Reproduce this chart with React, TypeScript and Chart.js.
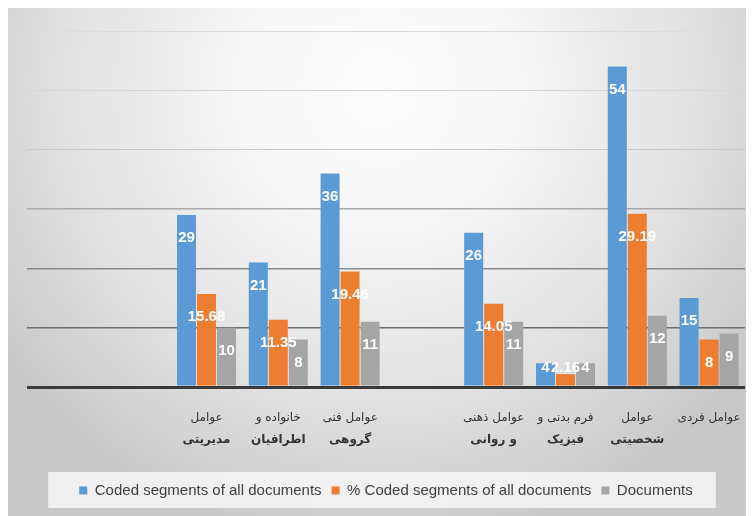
import React, { useEffect, useRef } from "react";
import { Chart, registerables } from "chart.js";
Chart.register(...registerables);

const categories: (string | string[])[] = [
  "",
  "",
  ["عوامل", "مدیریتی"],
  ["خانواده و", "اطرافیان"],
  ["عوامل فنی", "گروهی"],
  "",
  ["عوامل ذهنی", "و روانی"],
  ["فرم بدنی و", "فیزیک"],
  ["عوامل", "شخصیتی"],
  ["عوامل فردی"],
];
const codedSegments = [null, null, 29, 21, 36, null, 26, 4, 54, 15];
const percentCoded = [null, null, 15.68, 11.35, 19.46, null, 14.05, 2.16, 29.19, 8];
const documents = [null, null, 10, 8, 11, null, 11, 4, 12, 9];
const seriesNames = [
  "Coded segments of all documents",
  "% Coded segments of all documents",
  "Documents",
];
const seriesColors = ["#5B9BD5", "#ED7D31", "#A5A5A5"];
const yMin = 0;
const yMax = 60;
const yStep = 10;

const gridColors: Record<number, string> = {
  0: "#3a3a3a",
  10: "#6e6e6e",
  20: "#8a8a8a",
  30: "#a9a9a9",
  40: "#c9c9c9",
  50: "#d6d6d6",
  60: "#dcdcdc",
};

const backgroundPlugin = {
  id: "bgPlugin",
  beforeDraw(chart: any) {
    const { ctx, width, height } = chart;
    ctx.save();
    const cx = width / 2;
    const cy = 80;
    const g = ctx.createRadialGradient(cx, cy, 0, cx, cy, 460);
    g.addColorStop(0, "#fdfdfd");
    g.addColorStop(0.3, "#f6f6f6");
    g.addColorStop(0.7, "#e0e0e0");
    g.addColorStop(1, "#c8c8c8");
    ctx.fillStyle = g;
    ctx.fillRect(0, 0, width, height);
    const lg = chart.legend;
    if (lg && lg.legendHitBoxes && lg.legendHitBoxes.length) {
      const boxes = lg.legendHitBoxes;
      let l = Infinity;
      let r = -Infinity;
      boxes.forEach((b: any) => {
        l = Math.min(l, b.left);
        r = Math.max(r, b.left + b.width);
      });
      ctx.fillStyle = "rgba(244,244,244,0.9)";
      ctx.fillRect(l - 31, lg.top - 1, r - l + 54, lg.bottom - lg.top + 1);
    }
    ctx.restore();
  },
};

const valueLabelPlugin = {
  id: "valueLabels",
  afterDatasetsDraw(chart: any) {
    const { ctx } = chart;
    ctx.save();
    ctx.font = 'bold 15px "Liberation Sans", Arial, sans-serif';
    ctx.fillStyle = "#ffffff";
    ctx.textAlign = "center";
    ctx.textBaseline = "middle";
    chart.data.datasets.forEach((ds: any, i: number) => {
      const meta = chart.getDatasetMeta(i);
      meta.data.forEach((el: any, j: number) => {
        const v = ds.data[j];
        if (v === null || v === undefined) return;
        const y = Math.min(el.y + 23, el.base - 18);
        ctx.fillText(String(v), el.x, y);
      });
    });
    ctx.restore();
  },
};

const categoryLabelPlugin = {
  id: "categoryLabels",
  afterDraw(chart: any) {
    const { ctx } = chart;
    const xs = chart.scales.x;
    const bottom = chart.chartArea.bottom;
    ctx.save();
    ctx.fillStyle = "#333333";
    ctx.textAlign = "center";
    ctx.textBaseline = "middle";
    chart.data.labels.forEach((lab: any, i: number) => {
      const lines = Array.isArray(lab) ? lab : [lab];
      const x = xs.getPixelForValue(i);
      lines.forEach((t: string, j: number) => {
        if (!t) return;
        ctx.font = (j === 1 ? "bold " : "") + '12px "DejaVu Sans", sans-serif';
        ctx.fillText(t, x, bottom + 31 + j * 22);
      });
    });
    ctx.restore();
  },
};

export default function App() {
  const canvasRef = useRef<HTMLCanvasElement | null>(null);

  useEffect(() => {
    if (!canvasRef.current) return;
    const chart = new Chart(canvasRef.current, {
      type: "bar",
      data: {
        labels: categories as any,
        datasets: [
          { label: seriesNames[0], data: codedSegments as any, backgroundColor: seriesColors[0] },
          { label: seriesNames[1], data: percentCoded as any, backgroundColor: seriesColors[1] },
          { label: seriesNames[2], data: documents as any, backgroundColor: seriesColors[2] },
        ],
      },
      options: {
        animation: false,
        responsive: true,
        maintainAspectRatio: false,
        layout: { padding: { left: 19, right: 4, top: 23, bottom: 8 } },
        datasets: {
          bar: { categoryPercentage: 0.836, barPercentage: 0.95 },
        } as any,
        scales: {
          x: {
            display: true,
            grid: { display: false },
            border: { display: false },
            ticks: { display: false },
            afterFit: (s: any) => {
              s.height = 86;
            },
          },
          y: {
            min: yMin,
            max: yMax,
            ticks: { display: false, stepSize: yStep },
            border: { display: false },
            grid: {
              drawTicks: false,
              color: (c: any) => gridColors[c.tick?.value] ?? "#d0d0d0",
              lineWidth: (c: any) => (c.tick?.value === 0 ? 3 : c.tick?.value <= 30 ? 1.5 : 1),
            },
            afterFit: (s: any) => {
              s.width = 0;
            },
          },
        },
        plugins: {
          legend: {
            position: "bottom",
            labels: {
              boxWidth: 8,
              boxHeight: 8,
              padding: 10,
              color: "#404040",
              font: { size: 15, family: '"Liberation Sans", Arial, sans-serif' },
            },
          },
          tooltip: { enabled: false },
        },
      },
      plugins: [backgroundPlugin, valueLabelPlugin, categoryLabelPlugin],
    });
    return () => chart.destroy();
  }, []);

  return (
    <div style={{ position: "relative", width: 741, height: 508 }}>
      <canvas ref={canvasRef} />
    </div>
  );
}
